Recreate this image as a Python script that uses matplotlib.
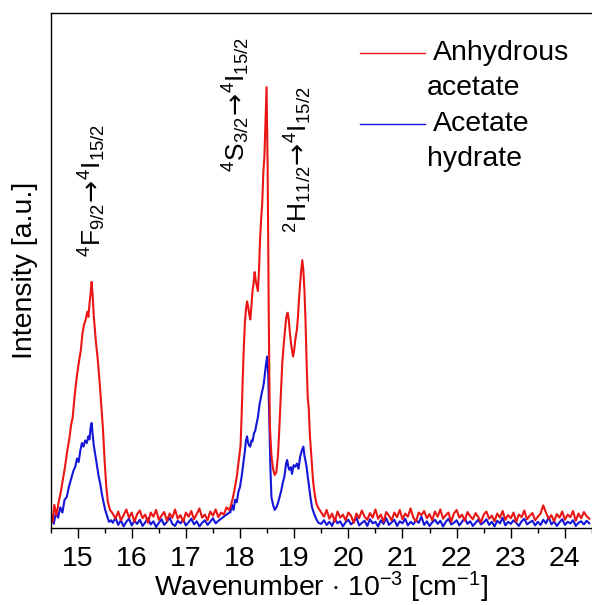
import matplotlib
matplotlib.use('Agg')
import matplotlib.pyplot as plt
from matplotlib.lines import Line2D

plt.rcParams['font.family'] = ['Liberation Sans', 'DejaVu Sans']
plt.rcParams['mathtext.fontset'] = 'custom'
plt.rcParams['mathtext.rm'] = 'Liberation Sans'
plt.rcParams['mathtext.it'] = 'Liberation Sans:italic'
plt.rcParams['mathtext.bf'] = 'Liberation Sans:bold'
plt.rcParams['mathtext.sf'] = 'DejaVu Sans'

OUT_PNG = 'out.png'
RED = '#ea1515'
BLUE = '#1515d8'

# ---- spectra (intensity in arbitrary units, 0..1 of the frame) ----
# 4F9/2 band
red_band1_x = [14.50, 14.54, 14.57, 14.61, 14.65, 14.69, 14.73, 14.77, 14.81, 14.85,
               14.88, 14.91, 14.94, 14.97, 15.00, 15.03, 15.06, 15.09, 15.12, 15.15,
               15.18, 15.20, 15.22, 15.24, 15.26, 15.28, 15.30, 15.34, 15.37, 15.41,
               15.44, 15.47, 15.50, 15.53, 15.56, 15.60]
red_band1_y = [0.030, 0.012, 0.045, 0.025, 0.050, 0.070, 0.095, 0.120, 0.150, 0.175,
               0.200, 0.215, 0.250, 0.280, 0.305, 0.326, 0.345, 0.378, 0.395, 0.405,
               0.420, 0.410, 0.435, 0.455, 0.478, 0.450, 0.410, 0.360, 0.330, 0.280,
               0.235, 0.190, 0.130, 0.080, 0.050, 0.035]
blue_band1_x = [14.50, 14.53, 14.56, 14.60, 14.64, 14.68, 14.72, 14.76, 14.80, 14.84,
                14.88, 14.92, 14.96, 14.99, 15.02, 15.05, 15.08, 15.11, 15.14, 15.17,
                15.20, 15.22, 15.24, 15.26, 15.28, 15.30, 15.33, 15.36, 15.39, 15.42,
                15.45, 15.48, 15.51, 15.54, 15.58, 15.62]
blue_band1_y = [0.010, 0.025, 0.008, 0.030, 0.020, 0.040, 0.030, 0.055, 0.060, 0.080,
                0.095, 0.110, 0.120, 0.135, 0.128, 0.150, 0.165, 0.158, 0.170, 0.165,
                0.178, 0.172, 0.195, 0.204, 0.180, 0.160, 0.140, 0.120, 0.100, 0.085,
                0.065, 0.050, 0.035, 0.025, 0.012, 0.015]

# baseline between the bands
mid_x = [15.65, 15.70, 15.75, 15.80, 15.85, 15.90, 15.95, 16.00, 16.05, 16.10,
         16.15, 16.20, 16.25, 16.30, 16.35, 16.40, 16.45, 16.50, 16.55, 16.60,
         16.65, 16.70, 16.75, 16.80, 16.85, 16.90, 16.95, 17.00, 17.05, 17.10,
         17.15, 17.20, 17.25, 17.30, 17.35, 17.40, 17.45, 17.50, 17.55, 17.60,
         17.65, 17.70, 17.75, 17.80]
red_mid_y = [0.028, 0.018, 0.032, 0.015, 0.025, 0.036, 0.020, 0.030, 0.012, 0.027,
             0.034, 0.019, 0.026, 0.010, 0.030, 0.022, 0.035, 0.016, 0.024, 0.031,
             0.014, 0.028, 0.020, 0.036, 0.018, 0.025, 0.012, 0.030, 0.022, 0.033,
             0.017, 0.027, 0.038, 0.020, 0.026, 0.015, 0.032, 0.024, 0.036, 0.021,
             0.030, 0.026, 0.040, 0.035]
blue_mid_y = [0.010, 0.020, 0.006, 0.015, 0.003, 0.012, 0.018, 0.005, 0.014, 0.008,
              0.016, 0.004, 0.011, 0.019, 0.007, 0.013, 0.002, 0.010, 0.017, 0.006,
              0.012, 0.020, 0.008, 0.004, 0.014, 0.009, 0.016, 0.005, 0.011, 0.018,
              0.007, 0.013, 0.003, 0.010, 0.015, 0.006, 0.012, 0.019, 0.009, 0.014,
              0.018, 0.022, 0.026, 0.030]

# 4S3/2 and 2H11/2 bands
red_band2_x = [17.82, 17.86, 17.90, 17.94, 17.98, 18.01, 18.03, 18.05, 18.07, 18.09,
               18.11, 18.13, 18.15, 18.17, 18.19, 18.21, 18.23, 18.25, 18.27, 18.29,
               18.31, 18.33, 18.35, 18.37, 18.39, 18.41, 18.43, 18.45, 18.47, 18.49,
               18.51, 18.53, 18.55, 18.58, 18.61, 18.64, 18.67, 18.70, 18.72, 18.75,
               18.78, 18.81, 18.84, 18.86, 18.88, 18.90, 18.92, 18.94, 18.96, 18.98,
               19.00, 19.02, 19.05, 19.07, 19.09, 19.11, 19.13, 19.15, 19.17, 19.19,
               19.21, 19.23, 19.25, 19.27, 19.29, 19.32, 19.35, 19.38, 19.41, 19.44,
               19.47]
red_band2_y = [0.040, 0.055, 0.075, 0.100, 0.135, 0.160, 0.220, 0.290, 0.350, 0.400,
               0.425, 0.440, 0.430, 0.415, 0.405, 0.430, 0.460, 0.475, 0.497, 0.480,
               0.470, 0.460, 0.500, 0.560, 0.600, 0.630, 0.690, 0.720, 0.790, 0.856,
               0.700, 0.420, 0.200, 0.140, 0.115, 0.103, 0.108, 0.140, 0.180, 0.250,
               0.320, 0.360, 0.395, 0.412, 0.418, 0.405, 0.380, 0.360, 0.345, 0.333,
               0.345, 0.365, 0.385, 0.410, 0.445, 0.475, 0.500, 0.520, 0.500, 0.460,
               0.400, 0.320, 0.255, 0.230, 0.180, 0.135, 0.090, 0.065, 0.048, 0.040,
               0.035]
blue_band2_x = [17.82, 17.85, 17.88, 17.91, 17.94, 17.97, 18.00, 18.03, 18.06, 18.09,
                18.11, 18.13, 18.15, 18.17, 18.19, 18.21, 18.23, 18.26, 18.28, 18.30,
                18.33, 18.36, 18.38, 18.40, 18.42, 18.44, 18.46, 18.48, 18.50, 18.52,
                18.54, 18.56, 18.58, 18.61, 18.64, 18.67, 18.70, 18.73, 18.76, 18.79,
                18.82, 18.85, 18.87, 18.89, 18.91, 18.94, 18.96, 18.99, 19.02, 19.05,
                19.08, 19.11, 19.14, 19.17, 19.19, 19.21, 19.23, 19.25, 19.27, 19.30,
                19.33, 19.36, 19.39, 19.42, 19.45]
blue_band2_y = [0.030, 0.045, 0.035, 0.055, 0.050, 0.070, 0.080, 0.100, 0.125, 0.150,
                0.170, 0.178, 0.165, 0.160, 0.158, 0.170, 0.168, 0.185, 0.188, 0.200,
                0.215, 0.240, 0.250, 0.262, 0.270, 0.282, 0.300, 0.318, 0.333, 0.300,
                0.216, 0.120, 0.060, 0.045, 0.035, 0.040, 0.048, 0.060, 0.072, 0.088,
                0.100, 0.125, 0.132, 0.120, 0.113, 0.118, 0.105, 0.122, 0.119, 0.125,
                0.115, 0.138, 0.150, 0.158, 0.140, 0.130, 0.118, 0.100, 0.085, 0.060,
                0.040, 0.030, 0.022, 0.015, 0.010]

# baseline on the high-energy side
high_x = [19.50, 19.55, 19.60, 19.65, 19.70, 19.75, 19.80, 19.85, 19.90, 19.95,
          20.00, 20.05, 20.10, 20.15, 20.20, 20.25, 20.30, 20.35, 20.40, 20.45,
          20.50, 20.55, 20.60, 20.65, 20.70, 20.75, 20.80, 20.85, 20.90, 20.95,
          21.00, 21.05, 21.10, 21.15, 21.20, 21.25, 21.30, 21.35, 21.40, 21.45,
          21.50, 21.55, 21.60, 21.65, 21.70, 21.75, 21.80, 21.85, 21.90, 21.95,
          22.00, 22.05, 22.10, 22.15, 22.20, 22.25, 22.30, 22.35, 22.40, 22.45,
          22.50, 22.55, 22.60, 22.65, 22.70, 22.75, 22.80, 22.85, 22.90, 22.95,
          23.00, 23.05, 23.10, 23.15, 23.20, 23.25, 23.30, 23.35, 23.40, 23.45,
          23.50, 23.55, 23.60, 23.65, 23.70, 23.75, 23.80, 23.85, 23.90, 23.95,
          24.00, 24.05, 24.10, 24.15, 24.20, 24.25, 24.30, 24.35, 24.40, 24.45]
red_high_y = [0.030, 0.022, 0.035, 0.018, 0.028, 0.012, 0.032, 0.020, 0.026, 0.015,
              0.030, 0.024, 0.010, 0.028, 0.019, 0.034, 0.022, 0.016, 0.029, 0.020,
              0.036, 0.018, 0.026, 0.012, 0.031, 0.024, 0.015, 0.030, 0.021, 0.035,
              0.017, 0.028, 0.022, 0.038, 0.020, 0.013, 0.030, 0.025, 0.033, 0.019,
              0.027, 0.015, 0.032, 0.022, 0.036, 0.018, 0.025, 0.030, 0.012, 0.028,
              0.035, 0.020, 0.026, 0.014, 0.031, 0.023, 0.017, 0.029, 0.021, 0.011,
              0.026, 0.032, 0.018, 0.024, 0.013, 0.028, 0.020, 0.033, 0.016, 0.025,
              0.019, 0.030, 0.012, 0.026, 0.021, 0.034, 0.017, 0.024, 0.029, 0.015,
              0.022, 0.028, 0.044, 0.030, 0.018, 0.025, 0.013, 0.027, 0.020, 0.032,
              0.016, 0.026, 0.021, 0.033, 0.014, 0.028, 0.019, 0.031, 0.023, 0.018]
blue_high_y = [0.008, 0.015, 0.006, 0.012, 0.004, 0.018, 0.009, 0.013, 0.003, 0.011,
               0.016, 0.007, 0.012, 0.020, 0.005, 0.010, 0.014, 0.004, 0.017, 0.009,
               0.012, 0.003, 0.015, 0.008, 0.019, 0.006, 0.011, 0.016, 0.004, 0.013,
               0.009, 0.018, 0.005, 0.012, 0.007, 0.015, 0.010, 0.022, 0.006, 0.013,
               0.004, 0.011, 0.016, 0.008, 0.014, 0.003, 0.012, 0.018, 0.007, 0.010,
               0.015, 0.005, 0.012, 0.019, 0.008, 0.013, 0.004, 0.010, 0.016, 0.007,
               0.011, 0.017, 0.006, 0.012, 0.003, 0.014, 0.009, 0.020, 0.005, 0.012,
               0.008, 0.015, 0.010, 0.004, 0.013, 0.018, 0.007, 0.011, 0.014, 0.005,
               0.012, 0.006, 0.016, 0.009, 0.021, 0.007, 0.013, 0.004, 0.011, 0.017,
               0.006, 0.012, 0.009, 0.015, 0.004, 0.010, 0.013, 0.007, 0.014, 0.009]

x_ticks = [15, 16, 17, 18, 19, 20, 21, 22, 23, 24]
series_labels = ['Anhydrous\nacetate', 'Acetate\nhydrate']
ARROW = r'\!\mathsf{\rightarrow}\!'
transition_labels = [r'$^4$F$_{9/2}' + ARROW + r'^4$I$_{15/2}$',
                     r'$^4$S$_{3/2}' + ARROW + r'^4$I$_{15/2}$',
                     r'$^2$H$_{11/2}' + ARROW + r'^4$I$_{15/2}$']
transition_pos = [(15.28, 0.526), (17.93, 0.691), (19.08, 0.573)]

red_x = red_band1_x + mid_x + red_band2_x + high_x
red_y = red_band1_y + red_mid_y + red_band2_y + red_high_y
blue_x = blue_band1_x + mid_x + blue_band2_x + high_x
blue_y = blue_band1_y + blue_mid_y + blue_band2_y + blue_high_y

fig = plt.figure(figsize=(5.92, 6.05), dpi=100)
ax = fig.add_axes([50.5 / 592, 1 - 528 / 605, 541.5 / 592, 515 / 605])

ax.plot(blue_x, blue_y, color=BLUE, linewidth=1.5)
ax.plot(red_x, red_y, color=RED, linewidth=1.5)

ax.set_xlim(14.5, 24.43)
ax.set_ylim(0, 1)
ax.set_xticks(x_ticks)
ax.set_xticks([t + 0.5 for t in [14] + x_ticks], minor=True)
ax.set_yticks([])
ax.tick_params(axis='x', which='major', direction='out', length=7.2, width=1.0, pad=5.5, labelsize=20.5)
ax.tick_params(axis='x', which='minor', direction='out', length=3.6, width=1.0)
ax.spines['right'].set_visible(False)
for s in ['left', 'top', 'bottom']:
    ax.spines[s].set_linewidth(1.0)

ax.text(0.5005, -0.132, r'Wavenumber $\cdot$ 10$^{-3}$ [cm$^{-1}$]', transform=ax.transAxes,
        ha='center', va='baseline', fontsize=20.5)
ax.text(-0.047, 0.501, 'Intensity [a.u.]', transform=ax.transAxes, rotation=90,
        ha='center', va='center', fontsize=20.5)

for label, (tx, ty) in zip(transition_labels, transition_pos):
    ax.text(tx, ty, label, rotation=90, ha='center', va='bottom', fontsize=19)

# hand-drawn legend as in the original
for i, (label, col) in enumerate(zip(series_labels, [RED, BLUE])):
    y0 = 0.922 - i * 0.1375
    ax.add_line(Line2D([0.5716, 0.6916], [y0, y0], transform=ax.transAxes, color=col, linewidth=1.0))
    first, second = label.split('\n')
    ax.text(0.7064, y0, first, transform=ax.transAxes, ha='left', va='center', fontsize=20.5)
    ax.text(0.6953, y0 - 0.068, second, transform=ax.transAxes, ha='left', va='center', fontsize=20.5)

fig.savefig(OUT_PNG, dpi=100)
